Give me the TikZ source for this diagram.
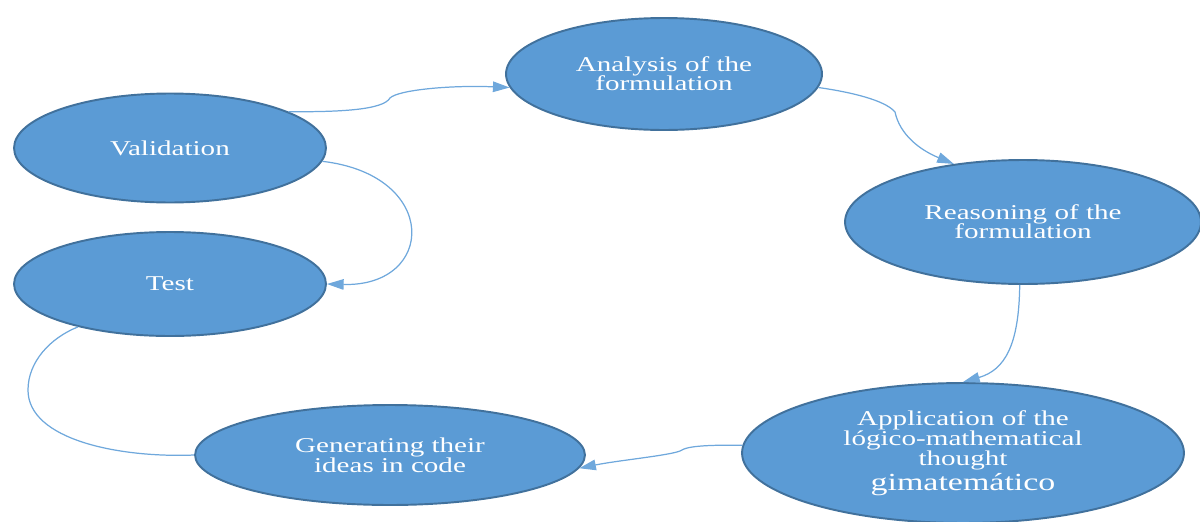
\documentclass[tikz,border=0pt]{standalone}
\usepackage{fontspec}
\setmainfont[FakeStretch=1.38]{Liberation Serif}
\usepackage{tikz}
\usetikzlibrary{shapes.geometric,arrows.meta}

\definecolor{bubblefill}{HTML}{5B9BD5}
\definecolor{bubbleline}{HTML}{41719C}
\definecolor{linkblue}{HTML}{6FA8DC}
\newcommand{\bubblefont}{\fontsize{12}{10.8}\selectfont\lineskiplimit=-20pt\relax}

\begin{document}
\begin{tikzpicture}[x=0.02cm,y=-0.02cm,->,>={Triangle[length=9.5pt,width=6pt]},
  bubble/.style={ellipse,draw=bubbleline,line width=1.1pt,fill=bubblefill,text=white,
    inner sep=0pt,align=center,font=\bubblefont},
  link/.style={draw=linkblue,line width=0.7pt}]
  \clip (0,0) rectangle (1200,521);

  \node[bubble,minimum width=6.32cm,minimum height=2.24cm] (A) at (664,74) {Analysis of the\\formulation};
  \node[bubble,minimum width=6.24cm,minimum height=2.18cm] (V) at (170,148) {Validation};
  \node[bubble,minimum width=6.24cm,minimum height=2.08cm] (T) at (170,284) {Test};
  \node[bubble,minimum width=7.12cm,minimum height=2.48cm] (R) at (1023,222) {Reasoning of the\\formulation};
  \node[bubble,minimum width=8.84cm,minimum height=2.80cm,font=\bubblefont\fontsize{12}{11.4}\selectfont] (P) at (963,453)
    {Application of the\\lógico-mathematical\\thought\\[3pt]\fontsize{14}{14}\selectfont gimatemático};
  \node[bubble,minimum width=7.80cm,minimum height=2.00cm,font=\bubblefont\fontsize{12}{11.4}\selectfont] (G) at (390,455) {Generating their\\ideas in code};

  % bends of the connectors
  \coordinate (k1) at (390,98);
  \coordinate (k2) at (895,112);
  \coordinate (k5) at (682,450);
  \coordinate (k6) at (28,390);

  \draw[link] (V.17) .. controls (340,112) and (383,110) .. (k1) .. controls (398,90) and (450,85) .. (A.185);
  \draw[link] (A.-5) .. controls (850,92) and (885,100) .. (k2) .. controls (900,135) and (920,150) .. (R.140);
  \draw[link] (V.-5) .. controls (440,175) and (436,287) .. (T.east);
  \draw[link] (R.-93) .. controls (1019,345) and (1005,370) .. (P.north);
  \draw[link] (P.178) .. controls (720,445) and (690,445) .. (k5) .. controls (675,455) and (620,460) .. (G.-4);
  \draw[link,-] (G.west) .. controls (120,458) and (28,440) .. (k6) .. controls (28,362) and (50,338) .. (T.205);
\end{tikzpicture}
\end{document}
